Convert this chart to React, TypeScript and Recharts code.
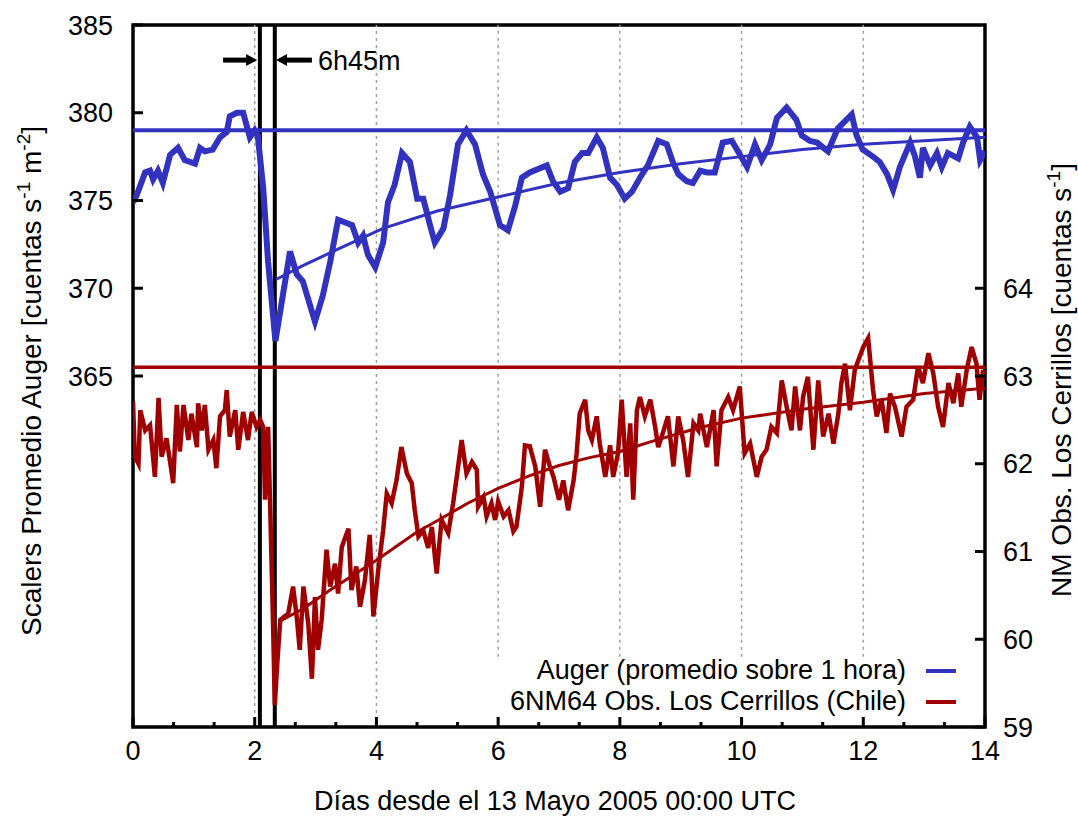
import React from 'react'
import { ComposedChart, Line, XAxis, YAxis, ReferenceLine, ReferenceArea, Legend } from 'recharts'

const BLUE = '#3232c0'
const RED = '#a00000'
const FONT = '"Liberation Sans", Arial, Helvetica, sans-serif'

// Auger scalers, 1 h average (cuentas s^-1 m^-2)
const augerDays = [
  0, 0.06, 0.2, 0.28, 0.33, 0.41, 0.49, 0.61, 0.74, 0.85, 1.02, 1.1, 1.18, 1.31, 1.43, 1.54, 1.59, 1.71, 1.81, 1.92,
  2.0, 2.05, 2.14, 2.22, 2.34, 2.58, 2.69, 2.79, 2.99, 3.12, 3.24, 3.37, 3.52, 3.6, 3.7, 3.78, 3.86, 3.98,
  4.11, 4.19, 4.3, 4.42, 4.55, 4.67, 4.77, 4.88, 4.96, 5.1, 5.21, 5.34, 5.48, 5.62, 5.75, 5.87,
  6.03, 6.16, 6.28, 6.39, 6.52, 6.8, 6.9, 7.02, 7.15, 7.26, 7.38, 7.48, 7.62, 7.72, 7.84, 7.95,
  8.08, 8.2, 8.33, 8.46, 8.63, 8.77, 8.87, 8.96, 9.1, 9.2, 9.32, 9.43, 9.56, 9.69, 9.84, 9.94,
  10.09, 10.22, 10.33, 10.47, 10.58, 10.74, 10.9, 10.99, 11.12, 11.24, 11.42, 11.58, 11.81, 11.89, 11.99,
  12.16, 12.27, 12.39, 12.49, 12.6, 12.77, 12.85, 12.93, 12.98, 13.1, 13.21, 13.29, 13.39, 13.56, 13.64, 13.75, 13.87, 13.92, 14.0,
]
const augerRate = [
  374.9, 375.3, 376.6, 376.7, 376.2, 376.7, 376.0, 377.6, 378.0, 377.3, 377.1, 378.0, 377.8, 377.9, 378.6, 378.9, 379.8, 380.0, 380.0, 378.6,
  379.0, 378.7, 375.7, 371.5, 367.0, 372.1, 370.8, 370.4, 368.1, 369.6, 371.5, 373.9, 373.7, 373.6, 372.6, 373.0, 371.9, 371.2,
  372.6, 374.9, 375.9, 377.7, 377.2, 375.1, 375.1, 373.6, 372.6, 373.4, 375.3, 378.2, 379.0, 378.2, 376.5, 375.5,
  373.6, 373.3, 374.7, 376.3, 376.6, 377.0, 376.1, 375.5, 375.7, 377.2, 377.7, 377.7, 378.6, 378.0, 376.3, 375.9,
  375.1, 375.5, 376.3, 377.0, 378.4, 378.2, 377.2, 376.5, 376.1, 376.0, 376.7, 376.6, 376.6, 378.3, 378.4, 377.8,
  376.9, 378.2, 377.3, 378.2, 379.7, 380.3, 379.6, 378.7, 378.4, 378.3, 377.8, 379.1, 379.9, 378.7, 377.9,
  377.5, 377.2, 376.5, 375.6, 376.9, 378.3, 377.5, 376.3, 378.0, 377.0, 377.7, 376.9, 377.7, 377.4, 378.3, 379.2, 378.6, 377.3, 377.8,
]
const augerFitDays = [2.35, 2.8, 3.35, 4.1, 5.0, 6.0, 7.0, 8.0, 9.0, 10.0, 11.0, 12.0, 13.0, 14.0]
const augerFitRate = [370.5, 371.3, 372.2, 373.4, 374.4, 375.2, 376.0, 376.6, 377.1, 377.5, 377.9, 378.2, 378.4, 378.6]

// 6NM64 Los Cerrillos (cuentas s^-1)
const nmDays = [
  0, 0.03, 0.09, 0.12, 0.2, 0.28, 0.36, 0.42, 0.47, 0.55, 0.61, 0.66, 0.72, 0.77, 0.83, 0.91, 0.96,
  1.05, 1.07, 1.13, 1.18, 1.24, 1.32, 1.37, 1.43, 1.51, 1.54, 1.59, 1.68, 1.73, 1.81, 1.89, 1.95,
  2.03, 2.09, 2.14, 2.17, 2.22, 2.25, 2.3, 2.33, 2.37, 2.42, 2.55, 2.63, 2.69, 2.74, 2.8, 2.88, 2.94, 2.99,
  3.04, 3.1, 3.18, 3.24, 3.32, 3.37, 3.43, 3.54, 3.59, 3.67, 3.73, 3.81, 3.89, 3.95,
  4.03, 4.11, 4.17, 4.25, 4.33, 4.41, 4.5, 4.58, 4.63, 4.69, 4.77, 4.85, 4.91, 4.99,
  5.07, 5.18, 5.26, 5.32, 5.4, 5.48, 5.57, 5.65, 5.67, 5.76, 5.81, 5.89, 5.95,
  6.0, 6.09, 6.17, 6.25, 6.3, 6.39, 6.44, 6.52, 6.61, 6.69, 6.77, 6.85, 6.91,
  7.0, 7.07, 7.15, 7.24, 7.29, 7.34, 7.43, 7.48, 7.54, 7.62, 7.67, 7.76, 7.84, 7.89, 7.97,
  8.03, 8.11, 8.17, 8.22, 8.28, 8.33, 8.41, 8.5, 8.58, 8.63, 8.72, 8.79, 8.88, 8.96,
  9.04, 9.12, 9.21, 9.29, 9.32, 9.43, 9.54, 9.59, 9.67, 9.78, 9.86, 9.97,
  10.05, 10.14, 10.25, 10.33, 10.41, 10.49, 10.58, 10.66, 10.74, 10.82, 10.88, 10.96,
  11.01, 11.09, 11.18, 11.26, 11.34, 11.43, 11.51, 11.59, 11.64, 11.7, 11.78, 11.86, 11.94,
  12.0, 12.08, 12.16, 12.22, 12.3, 12.38, 12.44, 12.52, 12.63, 12.71, 12.82, 12.9, 12.98,
  13.07, 13.15, 13.23, 13.31, 13.4, 13.48, 13.56, 13.61, 13.7, 13.78, 13.86, 13.91, 13.97,
]
const nmRate = [
  62.71, 62.08, 62.0, 62.61, 62.38, 62.44, 61.85, 62.75, 62.08, 62.29, 62.02, 61.78, 62.67, 62.14, 62.67, 62.27, 62.57,
  62.19, 62.69, 62.38, 62.67, 62.16, 62.27, 61.95, 62.54, 62.61, 62.84, 62.31, 62.61, 62.16, 62.59, 62.27, 62.59,
  62.42, 62.5, 62.42, 61.59, 62.42, 61.62, 60.22, 59.25, 59.72, 60.22, 60.29, 60.6, 60.26, 59.88, 60.6, 60.18, 59.55, 60.48,
  59.88, 60.22, 61.02, 60.6, 60.86, 60.52, 61.05, 61.26, 60.56, 60.83, 60.37, 60.67, 61.19, 60.26,
  60.79, 61.24, 61.66, 61.55, 61.81, 62.19, 61.89, 61.78, 61.47, 61.17, 61.24, 61.04, 61.28, 60.75,
  61.36, 61.21, 61.55, 61.85, 62.27, 61.89, 62.02, 61.93, 61.51, 61.62, 61.4, 61.55, 61.36,
  61.57, 61.4, 61.47, 61.23, 61.28, 61.74, 62.21, 62.2, 61.97, 61.51, 62.16, 61.97, 61.85,
  61.59, 61.81, 61.47, 61.81, 62.12, 62.57, 62.73, 62.38, 62.27, 62.54, 62.23, 61.85, 62.21, 61.85, 62.12,
  62.73, 61.85, 62.46, 61.59, 62.61, 62.76, 62.54, 62.73, 62.42, 62.19, 62.38, 62.54, 61.97, 62.54,
  62.27, 61.85, 62.46, 62.38, 62.57, 62.19, 62.61, 61.97, 62.61, 62.76, 62.61, 62.88,
  62.12, 62.23, 61.85, 62.08, 62.16, 62.42, 62.35, 62.95, 62.65, 62.38, 62.88, 62.38,
  62.76, 62.99, 62.16, 62.95, 62.31, 62.57, 62.23, 62.57, 62.92, 63.14, 62.61, 63.07, 63.22,
  63.33, 63.43, 62.84, 62.54, 62.73, 62.35, 62.8, 62.65, 62.31, 62.65, 62.73, 63.11, 62.92,
  63.26, 63.03, 62.65, 62.42, 62.92, 62.69, 63.03, 62.65, 63.07, 63.33, 63.14, 62.73, 63.07,
]
const nmFitDays = [2.4, 2.8, 3.24, 4.0, 4.66, 5.0, 5.5, 6.0, 6.5, 7.0, 7.5, 8.0, 8.5, 9.3, 10.0, 11.0, 12.0, 13.0, 14.0]
const nmFitRate = [60.2, 60.35, 60.56, 60.9, 61.22, 61.35, 61.55, 61.72, 61.86, 61.98, 62.07, 62.14, 62.25, 62.41, 62.52, 62.62, 62.7, 62.8, 62.86]

// pre-event means, event markers
const augerMean = 379
const nmMean = 63.1
const shockStart = 2.085
const shockOnset = 2.33

const xMajor = [0, 2, 4, 6, 8, 10, 12, 14]
const xMinor = [0.667, 1.333, 2.667, 3.333, 4.667, 5.333, 6.667, 7.333, 8.667, 9.333, 10.667, 11.333, 12.667, 13.333]
const leftTicks = [365, 370, 375, 380, 385]
const rightTicks = [59, 60, 61, 62, 63, 64]
const gridDays = [2, 4, 6, 8, 10, 12]
const gridBottom = [345, 345, 349, 349, 349, 349]

const legendItems = [
  { name: 'Auger (promedio sobre 1 hora)', color: BLUE },
  { name: '6NM64 Obs. Los Cerrillos (Chile)', color: RED },
]

const zip = (xs: number[], ys: number[]) => xs.map((d, i) => ({ d, v: ys[i] }))
const augerData = zip(augerDays, augerRate)
const augerFit = zip(augerFitDays, augerFitRate)
const nmData = zip(nmDays, nmRate)
const nmFit = zip(nmFitDays, nmFitRate)
const xTicks = [...xMajor, ...xMinor].sort((a, b) => a - b)

const BottomTick = ({ x, y, payload }: any) => {
  const major = xMajor.includes(payload.value)
  return (
    <g>
      <line x1={x} x2={x} y1={y} y2={y - (major ? 10 : 5)} stroke="#000" strokeWidth={3} />
      {major && (
        <text x={x} y={y + 33} textAnchor="middle" fontSize={27} fontFamily={FONT} fill="#000">
          {payload.value}
        </text>
      )}
    </g>
  )
}

const TopTick = ({ x, y, payload }: any) => {
  const major = xMajor.includes(payload.value)
  return <line x1={x} x2={x} y1={y} y2={y + (major ? 10 : 5)} stroke="#000" strokeWidth={3} />
}

const LeftTick = ({ x, y, payload }: any) => (
  <g>
    <line x1={x} x2={x + 10} y1={y} y2={y} stroke="#000" strokeWidth={3} />
    <text x={x - 20} y={y + 9.5} textAnchor="end" fontSize={27} fontFamily={FONT} fill="#000">
      {payload.value}
    </text>
  </g>
)

const RightTick = ({ x, y, payload }: any) => (
  <g>
    <line x1={x} x2={x - 10} y1={y} y2={y} stroke="#000" strokeWidth={3} />
    <text x={x + 18} y={y + 9.5} textAnchor="start" fontSize={27} fontFamily={FONT} fill="#000">
      {payload.value}
    </text>
  </g>
)

const Arrow = ({ x1, y1, x2, y2, caption }: any) => {
  const dir = x2 > x1 ? 1 : -1
  return (
    <g>
      <line x1={x1} y1={y1} x2={x2 - dir * 8} y2={y2} stroke="#000" strokeWidth={5} />
      <polygon
        points={`${x2},${y2} ${x2 - dir * 11},${y2 - 6} ${x2 - dir * 11},${y2 + 6}`}
        fill="#000"
      />
      {caption && (
        <text x={x1 + 6} y={y1 + 10} fontSize={27} fontFamily={FONT} fill="#000">
          {caption}
        </text>
      )}
    </g>
  )
}

const LegendBox = () => (
  <div style={{ fontFamily: FONT, fontSize: 27, color: '#000' }}>
    {legendItems.map((it) => (
      <div
        key={it.name}
        style={{ display: 'flex', justifyContent: 'flex-end', alignItems: 'center', height: 31, lineHeight: '31px' }}
      >
        <span>{it.name}</span>
        <span style={{ display: 'inline-block', width: 30, height: 4, background: it.color, marginLeft: 20 }} />
      </div>
    ))}
  </div>
)

export default function App() {
  return (
    <div style={{ position: 'absolute', left: 0, top: 0, width: 1078, height: 817, background: '#fff' }}>
      <ComposedChart width={1078} height={817} margin={{ top: 25, right: 0, left: 0, bottom: 0 }}>
        <XAxis
          dataKey="d"
          type="number"
          domain={[0, 14]}
          ticks={xTicks}
          interval={0}
          allowDataOverflow
          height={90}
          axisLine={false}
          tickLine={false}
          tickSize={0}
          tickMargin={0}
          tick={<BottomTick />}
        />
        <XAxis
          xAxisId="top"
          orientation="top"
          dataKey="d"
          type="number"
          domain={[0, 14]}
          ticks={xTicks}
          interval={0}
          allowDataOverflow
          height={0}
          axisLine={false}
          tickLine={false}
          tickSize={0}
          tickMargin={0}
          tick={<TopTick />}
        />
        <YAxis
          yAxisId="left"
          type="number"
          domain={[345, 385]}
          ticks={leftTicks}
          interval={0}
          allowDataOverflow
          width={133}
          axisLine={false}
          tickLine={false}
          tickSize={0}
          tickMargin={0}
          tick={<LeftTick />}
        />
        <YAxis
          yAxisId="right"
          orientation="right"
          type="number"
          domain={[59, 67]}
          ticks={rightTicks}
          interval={0}
          allowDataOverflow
          width={93}
          axisLine={false}
          tickLine={false}
          tickSize={0}
          tickMargin={0}
          tick={<RightTick />}
        />

        {gridDays.map((d, i) => (
          <ReferenceLine
            key={d}
            yAxisId="left"
            segment={[{ x: d, y: gridBottom[i] }, { x: d, y: 385 }]}
            stroke="#a0a0a0"
            strokeWidth={1.5}
            strokeDasharray="3 4"
          />
        ))}

        <ReferenceLine yAxisId="left" x={shockStart} stroke="#000" strokeWidth={4} />
        <ReferenceLine yAxisId="left" x={shockOnset} stroke="#000" strokeWidth={4} />
        <ReferenceLine yAxisId="left" y={augerMean} stroke={BLUE} strokeWidth={4} />
        <ReferenceLine yAxisId="right" y={nmMean} stroke={RED} strokeWidth={3.5} />

        <ReferenceLine
          yAxisId="left"
          segment={[{ x: 1.48, y: 383 }, { x: 2.04, y: 383 }]}
          shape={(p: any) => <Arrow {...p} />}
        />
        <ReferenceLine
          yAxisId="left"
          segment={[{ x: 2.94, y: 383 }, { x: 2.35, y: 383 }]}
          shape={(p: any) => <Arrow {...p} caption="6h45m" />}
        />

        <Line
          data={nmData}
          dataKey="v"
          yAxisId="right"
          type="linear"
          stroke={RED}
          strokeWidth={4.5}
          strokeLinejoin="miter"
          dot={false}
          isAnimationActive={false}
        />
        <Line
          data={nmFit}
          dataKey="v"
          yAxisId="right"
          type="linear"
          stroke={RED}
          strokeWidth={3}
          dot={false}
          isAnimationActive={false}
        />
        <Line
          data={augerData}
          dataKey="v"
          yAxisId="left"
          type="linear"
          stroke={BLUE}
          strokeWidth={6}
          dot={false}
          isAnimationActive={false}
        />
        <Line
          data={augerFit}
          dataKey="v"
          yAxisId="left"
          type="linear"
          stroke={BLUE}
          strokeWidth={3}
          dot={false}
          isAnimationActive={false}
        />

        <ReferenceArea
          yAxisId="left"
          x1={0}
          x2={14}
          y1={345}
          y2={385}
          fill="none"
          fillOpacity={0}
          stroke="#000"
          strokeWidth={3.5}
          ifOverflow="visible"
        />

        <Legend
          layout="horizontal"
          verticalAlign="middle"
          align="center"
          width={556}
          wrapperStyle={{ left: 400, top: 655, width: 556 }}
          content={() => <LegendBox />}
        />
      </ComposedChart>

      <svg
        width={1078}
        height={817}
        style={{ position: 'absolute', left: 0, top: 0, pointerEvents: 'none' }}
        fontFamily={FONT}
        fontSize={28}
        fill="#000"
      >
        <text x={41} y={381} textAnchor="middle" transform="rotate(-90 41 381)">
          Scalers Promedio Auger [cuentas s
          <tspan dy={-11} fontSize={19}>-1</tspan>
          <tspan dy={11}> m</tspan>
          <tspan dy={-11} fontSize={19}>-2</tspan>
          <tspan dy={11}>]</tspan>
        </text>
        <text x={1071} y={380} textAnchor="middle" transform="rotate(-90 1071 380)">
          NM Obs. Los Cerrillos [cuentas s
          <tspan dy={-11} fontSize={19}>-1</tspan>
          <tspan dy={11}>]</tspan>
        </text>
        <text x={555} y={810} textAnchor="middle" fontSize={27}>
          Días desde el 13 Mayo 2005 00:00 UTC
        </text>
      </svg>
    </div>
  )
}
